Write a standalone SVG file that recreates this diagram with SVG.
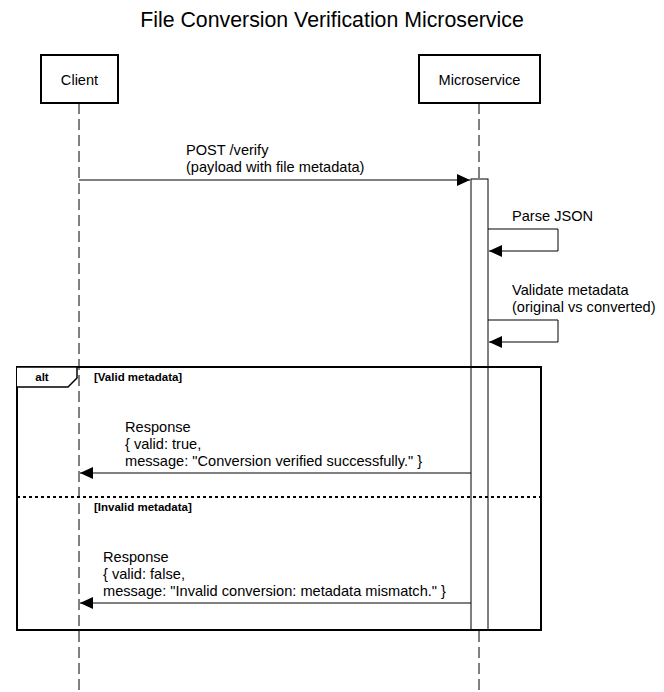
<svg xmlns="http://www.w3.org/2000/svg" width="664" height="692" viewBox="0 0 664 692">
<defs>
<style>
text{font-family:"Liberation Sans",Arial,Helvetica,sans-serif;fill:#000}
.title{font-size:21.3px;text-anchor:middle}
.actor{fill:#fff;stroke:#000;stroke-width:2}
.atext{font-size:14.6px;text-anchor:middle}
.life{stroke:#000;stroke-width:1;stroke-dasharray:11,5;fill:none}
.msg{stroke:#000;stroke-width:1;fill:none}
.mtext{font-size:14.6px}
.small{font-size:11.5px;font-weight:bold}
.frame{fill:none;stroke:#000;stroke-width:2}
</style>
<marker id="ah" viewBox="0 0 13 12" refX="13" refY="6" markerWidth="13" markerHeight="12" markerUnits="userSpaceOnUse" orient="auto">
<path d="M0,0 L13,6 L0,12 z" fill="#000"/>
</marker>
</defs>
<rect width="664" height="692" fill="#fff"/>
<text class="title" x="332" y="27">File Conversion Verification Microservice</text>

<g id="lifelines">
<line class="life" x1="79" y1="103" x2="79" y2="692"/>
<line class="life" x1="479" y1="103" x2="479" y2="692"/>
</g>

<g id="client">
<rect class="actor" x="41" y="55" width="77" height="48"/>
<text class="atext" x="79.5" y="85">Client</text>
</g>
<g id="microservice">
<rect class="actor" x="419" y="55" width="121" height="48"/>
<text class="atext" x="479.5" y="85">Microservice</text>
</g>

<g id="activation">
<rect x="471" y="179" width="17" height="451" fill="#fff" stroke="#000" stroke-width="1"/>
</g>

<g id="alt-frame">
<rect class="frame" x="17" y="367" width="524" height="263"/>
<path d="M17,367 H77 V378 L68,387 H17" fill="#fff" stroke="#000" stroke-width="1.5"/>
<text class="small" x="42" y="381" text-anchor="middle">alt</text>
<text class="small" x="94" y="381">[Valid metadata]</text>
<line x1="17" y1="497" x2="541" y2="497" stroke="#000" stroke-width="2" stroke-dasharray="3,3"/>
<text class="small" x="94" y="511">[Invalid metadata]</text>
</g>

<g id="connectors">
<line class="msg" x1="79" y1="180" x2="470" y2="180" marker-end="url(#ah)"/>
<text class="mtext" x="186" y="155">POST /verify</text>
<text class="mtext" x="186" y="172">(payload with file metadata)</text>

<path class="msg" d="M488,229 H558 V251 H489" marker-end="url(#ah)"/>
<text class="mtext" x="512" y="221">Parse JSON</text>

<path class="msg" d="M488,320 H558 V342 H489" marker-end="url(#ah)"/>
<text class="mtext" x="512" y="295">Validate metadata</text>
<text class="mtext" x="512" y="312">(original vs converted)</text>

<line class="msg" x1="471" y1="473" x2="80" y2="473" marker-end="url(#ah)"/>
<text class="mtext" x="125" y="432">Response</text>
<text class="mtext" x="125" y="449">{ valid: true,</text>
<text class="mtext" x="125" y="466">message: "Conversion verified successfully." }</text>

<line class="msg" x1="471" y1="603" x2="80" y2="603" marker-end="url(#ah)"/>
<text class="mtext" x="103" y="562">Response</text>
<text class="mtext" x="103" y="579">{ valid: false,</text>
<text class="mtext" x="103" y="596">message: "Invalid conversion: metadata mismatch." }</text>
</g>
</svg>
